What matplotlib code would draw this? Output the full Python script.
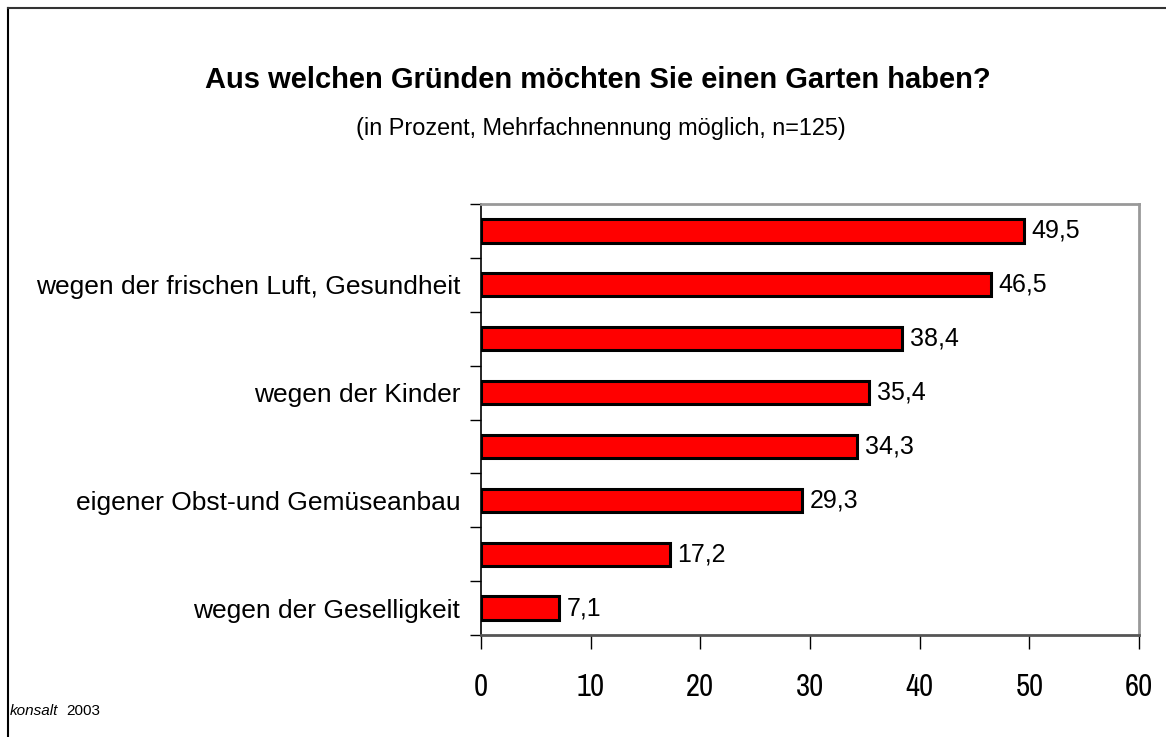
import matplotlib.pyplot as plt
from matplotlib.lines import Line2D

categories = [
    "",
    "wegen der frischen Luft, Gesundheit",
    "",
    "wegen der Kinder",
    "",
    "eigener Obst-und Gemüseanbau",
    "",
    "wegen der Geselligkeit",
]
values = [49.5, 46.5, 38.4, 35.4, 34.3, 29.3, 17.2, 7.1]
x_ticks = [0, 10, 20, 30, 40, 50, 60]

NARROW = ["Pragati Narrow", "Liberation Sans", "DejaVu Sans"]
PLAIN = ["Liberation Sans", "DejaVu Sans"]
W, H = 1166, 737

fig = plt.figure(figsize=(W / 100, H / 100), dpi=100)
ax = fig.add_axes([481 / W, 1 - 635 / H, (1139 - 481) / W, (635 - 204) / H])

ypos = list(range(len(values)))
ax.barh(ypos, values, height=0.43, color="#ff0000", edgecolor="black", linewidth=2.2)
for y, v in zip(ypos, values):
    ax.text(v + 0.7, y, f"{v:.1f}".replace(".", ","), va="center", ha="left",
            fontsize=18, family=PLAIN)

ax.set_ylim(len(values) - 0.5, -0.5)
ax.set_xlim(0, 60)
ax.set_yticks([y + 0.5 for y in ypos[:-1]] + [-0.5, len(values) - 0.5])
ax.set_yticklabels([])
ax.set_yticks(ypos, minor=True)
ax.set_yticklabels(categories, minor=True, fontsize=19, family=PLAIN)
ax.tick_params(axis="y", which="minor", length=0, pad=15)
ax.tick_params(axis="y", which="major", length=8, width=1, direction="out")
ax.set_xticks(x_ticks)
ax.set_xticklabels([str(t) for t in x_ticks], fontsize=24, family=NARROW)
ax.tick_params(axis="x", length=10, width=1, direction="out", pad=17)

ax.spines["left"].set_color("black")
ax.spines["left"].set_linewidth(1.2)
ax.spines["bottom"].set_color("#555555")
ax.spines["bottom"].set_linewidth(2)
ax.spines["top"].set_color("#999999")
ax.spines["top"].set_linewidth(2)
ax.spines["right"].set_color("#999999")
ax.spines["right"].set_linewidth(2)

fig.text(598 / W, 1 - 88 / H, "Aus welchen Gründen möchten Sie einen Garten haben?",
         ha="center", va="baseline", fontsize=21, fontweight="bold", family=PLAIN)
fig.text(601 / W, 1 - 135 / H, "(in Prozent, Mehrfachnennung möglich, n=125)",
         ha="center", va="baseline", fontsize=16.9, family=PLAIN)

fig.text(10 / W, 1 - 715 / H, "konsalt", ha="left", va="baseline", fontsize=11,
         style="italic", family=PLAIN)
fig.text(66 / W, 1 - 715 / H, "2003", ha="left", va="baseline", fontsize=11,
         family=PLAIN)

# outer frame (left and top edges only)
fig.add_artist(Line2D([8 / W, 8 / W], [0, 1 - 8 / H], transform=fig.transFigure,
                      color="black", linewidth=1.5))
fig.add_artist(Line2D([8 / W, 1], [1 - 8 / H, 1 - 8 / H], transform=fig.transFigure,
                      color="#333333", linewidth=1.5))

fig.savefig("out.png", dpi=100)
